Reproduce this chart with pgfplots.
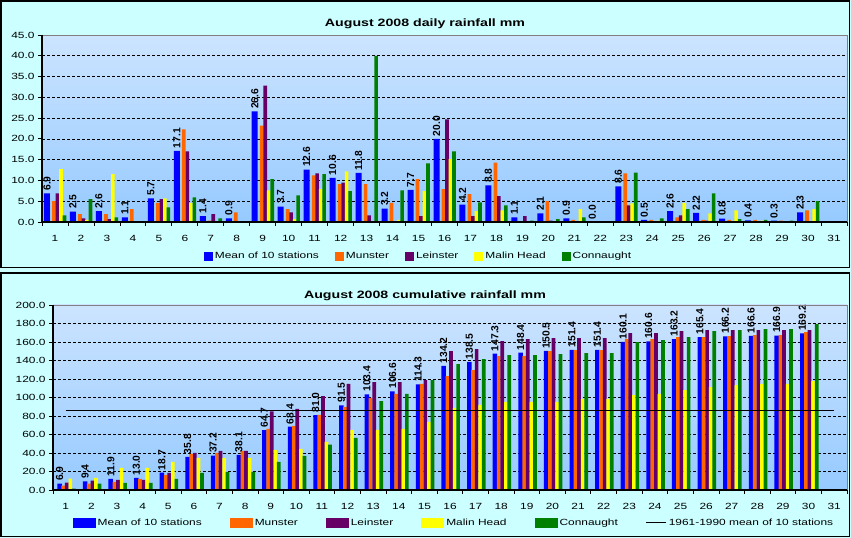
\documentclass[border=0pt]{standalone}
\usepackage{pgfplots}
\pgfplotsset{compat=1.18}
\usepackage{pgfplotstable}
\usepackage{fontspec}
\setmainfont{Liberation Sans}[FakeStretch=1.33]
\newfontfamily\lblfont{Liberation Sans}
\definecolor{bgcyan}{RGB}{204,255,255}
\definecolor{pltop}{RGB}{204,228,255}
\definecolor{plbot}{RGB}{150,202,255}
\definecolor{cmean}{RGB}{0,0,255}
\definecolor{cmun}{RGB}{255,102,0}
\definecolor{clein}{RGB}{102,0,102}
\definecolor{cmal}{RGB}{255,255,0}
\definecolor{ccon}{RGB}{0,128,0}

\pgfplotstableread{
day mean mun lein mal con
1 6.9 5.0 6.9 12.7 1.6
2 2.5 1.9 0.9 0.5 5.5
3 2.6 1.9 0.7 11.5 1.1
4 1.1 3.1 0.0 0.0 0.1
5 5.7 4.6 5.5 5.7 3.5
6 17.1 22.3 17.0 4.6 5.9
7 1.4 0.3 1.9 0.0 0.9
8 0.9 2.3 0.1 0.0 0.0
9 26.6 23.2 32.8 7.6 10.3
10 3.7 3.1 2.3 0.7 6.4
11 12.6 11.2 11.7 7.9 11.5
12 10.6 9.1 9.5 12.2 7.4
13 11.8 9.1 1.6 0.0 40.0
14 3.2 4.6 0.1 0.5 7.6
15 7.7 10.3 1.4 7.4 14.1
16 20.0 7.9 24.7 15.1 17.0
17 4.2 6.7 1.4 2.6 4.7
18 8.8 14.3 6.2 2.8 4.0
19 1.1 0.1 1.4 0.1 0.3
20 2.1 5.0 0.3 0.0 0.7
21 0.9 0.5 0.0 3.1 1.1
22 0.0 0.0 0.0 0.0 0.0
23 8.6 11.7 4.0 4.5 11.9
24 0.5 0.5 0.0 0.3 0.9
25 2.6 1.1 1.6 4.6 3.1
26 2.2 0.5 0.3 2.1 6.9
27 0.8 0.5 0.1 2.8 0.7
28 0.4 0.5 0.0 0.3 0.5
29 0.3 0.3 0.0 0.0 0.3
30 2.3 2.8 0.0 3.1 5.0
}\daily

\pgfplotstableread{
day mean mun lein mal con
1 6.9 4.6 7.9 12.2 1.4
2 9.4 6.8 10.0 13.2 6.8
3 11.9 8.7 10.9 23.8 7.7
4 13.0 12.0 10.9 23.8 7.7
5 18.7 16.4 18.5 30.4 12.1
6 35.8 39.0 40.1 34.7 18.5
7 37.2 40.1 42.3 34.7 19.6
8 38.1 42.3 42.3 34.7 19.6
9 64.7 66.0 85.1 43.4 30.4
10 68.4 69.3 87.6 44.4 36.9
11 81.0 81.1 101.6 52.0 49.1
12 91.5 89.8 114.6 64.9 56.3
13 103.4 99.5 116.7 64.9 96.2
14 106.6 103.8 116.7 66.0 103.8
15 114.3 114.6 118.9 73.6 118.9
16 134.2 123.2 150.2 88.7 136.2
17 138.5 129.7 152.4 91.9 141.6
18 147.3 144.8 161.0 95.2 145.9
19 148.4 144.8 163.1 95.2 145.9
20 150.5 150.2 164.2 95.2 147.0
21 151.4 151.3 164.2 98.4 148.0
22 151.4 151.3 164.2 98.4 148.0
23 160.1 163.1 169.6 102.7 159.9
24 160.6 163.1 169.6 103.8 162.1
25 163.2 165.3 171.8 108.1 165.3
26 165.4 165.3 172.9 111.3 171.8
27 166.2 166.4 172.9 113.5 172.9
28 166.6 167.5 172.9 114.6 173.9
29 166.9 167.5 172.9 114.6 173.9
30 169.2 170.7 172.9 117.8 179.3
}\cumul

\pgfplotsset{
  /pgf/number format/assume math mode=true,
  myaxis/.style={
    scale only axis, anchor=south west,
    xmin=0.5, xmax=31.5, ymin=0, enlargelimits=false, clip=false,
    axis background/.style={top color=pltop, bottom color=plbot},
    axis line style={draw=none},
    xtick={1,...,31}, minor xtick={0.5,1.5,...,31.5},
    tick align=outside, major tick length=4bp, minor tick length=4bp,
    tick pos=left,
    every tick/.style={black, line width=0.8bp},
    major x tick style={draw=none},
    minor x tick style={black, line width=0.8bp},
    ymajorgrids, grid style={black, line width=0.6bp, dash pattern=on 3bp off 2bp},
    ticklabel style={font=\fontsize{9}{10}\selectfont},
    yticklabel style={/pgf/number format/.cd, fixed, fixed zerofill, precision=1},
    xticklabel style={yshift=-6bp},
    after end axis/.code={
      \draw[gray, line width=0.8bp] (rel axis cs:0,1) -- (rel axis cs:1,1) -- (rel axis cs:1,0);
      \draw[black, line width=1.2bp] (rel axis cs:0,1) -- (rel axis cs:0,0) -- (rel axis cs:1,0);
    },
    legend style={draw=none, fill=none, font=\fontsize{9}{10}\selectfont,
      anchor=center},
    legend columns=-1, legend cell align=left,
  },
  boxlegend/.style={legend image code/.code={\fill[##1, draw=none] (0bp,-4.5bp) rectangle (9bp,4.5bp);}},
  widelegend/.style={legend image code/.code={\fill[##1, draw=none] (0bp,-5bp) rectangle (23bp,5bp);}},
  linelegend/.style={legend image code/.code={\draw[##1] (0bp,0bp) -- (20bp,0bp);}},
  meanlabels/.style={
    nodes near coords={\pgfmathprintnumber[fixed,fixed zerofill,precision=1]{\pgfplotspointmeta}},
    every node near coord/.append style={xshift=#1, rotate=90, anchor=west, black,
      font=\lblfont\bfseries\fontsize{10.3}{11}\selectfont, inner sep=2.5bp}},
}

\begin{document}
\begin{tikzpicture}
\fill[bgcyan] (0,0) rectangle (851bp,538bp);
\useasboundingbox (0,0) rectangle (851bp,538bp);
\draw[black, line width=1.6bp] (0.8bp,270.5bp) rectangle (849.5bp,537.2bp);
\draw[black, line width=1.6bp] (0.8bp,1.5bp) rectangle (849.5bp,265bp);
\node[anchor=base, font=\fontsize{10.7}{12}\selectfont\bfseries] at (425bp,511bp) {August 2008 daily rainfall mm};
\node[anchor=base, font=\fontsize{10.7}{12}\selectfont\bfseries] at (425bp,239.5bp) {August 2008 cumulative rainfall mm};

% top chart
\begin{axis}[myaxis, at={(42bp,316bp)}, width=805bp, height=187bp,
  ymax=45, ytick={0,5,...,45},
  legend style={at={(0.4677,-0.182)}, /tikz/every even column/.append style={column sep=14bp}}]
\addplot[ybar, bar width=6bp, bar shift=-8bp, fill=cmean, draw=none, boxlegend, meanlabels=-8bp] table[x=day,y=mean]{\daily};
\addlegendentry{Mean of 10 stations}
\addplot[ybar, bar width=3.7bp, bar shift=-1bp, fill=cmun, draw=none, boxlegend] table[x=day,y=mun]{\daily};
\addlegendentry{Munster}
\addplot[ybar, bar width=3.6bp, bar shift=2.5bp, fill=clein, draw=none, boxlegend] table[x=day,y=lein]{\daily};
\addlegendentry{Leinster}
\addplot[ybar, bar width=3.6bp, bar shift=6bp, fill=cmal, draw=none, boxlegend] table[x=day,y=mal]{\daily};
\addlegendentry{Malin Head}
\addplot[ybar, bar width=3.6bp, bar shift=9.5bp, fill=ccon, draw=none, boxlegend] table[x=day,y=con]{\daily};
\addlegendentry{Connaught}
\end{axis}

% bottom chart
\begin{axis}[myaxis, at={(53bp,48bp)}, width=794bp, height=185bp,
  ymax=200, ytick={0,20,...,200},
  legend style={at={(0.505,-0.178)}, /tikz/every even column/.append style={column sep=26bp}}]
\addplot[ybar, bar width=4.5bp, bar shift=-6.3bp, fill=cmean, draw=none, widelegend, meanlabels=-6.3bp] table[x=day,y=mean]{\cumul};
\addlegendentry{Mean of 10 stations}
\addplot[ybar, bar width=3.7bp, bar shift=-2.6bp, fill=cmun, draw=none, widelegend] table[x=day,y=mun]{\cumul};
\addlegendentry{Munster}
\addplot[ybar, bar width=3.7bp, bar shift=1bp, fill=clein, draw=none, widelegend] table[x=day,y=lein]{\cumul};
\addlegendentry{Leinster}
\addplot[ybar, bar width=3.6bp, bar shift=4.6bp, fill=cmal, draw=none, widelegend] table[x=day,y=mal]{\cumul};
\addlegendentry{Malin Head}
\addplot[ybar, bar width=3.7bp, bar shift=8.1bp, fill=ccon, draw=none, widelegend] table[x=day,y=con]{\cumul};
\addlegendentry{Connaught}
\addplot[black, line width=0.9bp, linelegend] coordinates {(1,86.5) (31,86.5)};
\addlegendentry{1961-1990 mean of 10 stations}
\end{axis}
\end{tikzpicture}
\end{document}
